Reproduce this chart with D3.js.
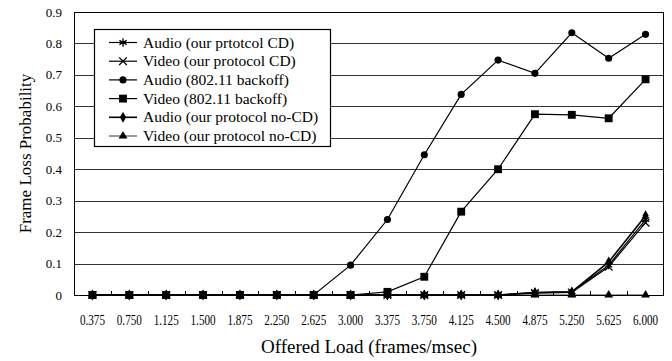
<!DOCTYPE html>
<html>
<head>
<meta charset="utf-8">
<script src="https://cdn.jsdelivr.net/npm/d3@7"></script>
<style>
  body { margin: 0; background: #fff; }
  text { font-family: "Liberation Serif", "Times New Roman", serif; fill: #000; }
</style>
</head>
<body>
<div id="chart"></div>
<script>
// data
const categories = ['0.375', '0.750', '1.125', '1.500', '1.875', '2.250', '2.625', '3.000',
  '3.375', '3.750', '4.125', '4.500', '4.875', '5.250', '5.625', '6.000']
const audioCD      = [0, 0, 0, 0, 0, 0, 0, 0, 0, 0, 0, 0, 0.008, 0.01, 0.095, 0.24]
const videoCD      = [0, 0, 0, 0, 0, 0, 0, 0, 0, 0, 0, 0, 0.006, 0.008, 0.09, 0.23]
const audioBackoff = [0, 0, 0, 0, 0, 0, 0, 0.095, 0.24, 0.446, 0.638, 0.747, 0.705, 0.834, 0.753, 0.829]
const videoBackoff = [0, 0, 0, 0, 0, 0, 0, 0, 0.01, 0.058, 0.265, 0.40, 0.575, 0.573, 0.562, 0.686]
const audioNoCD    = [0, 0, 0, 0, 0, 0, 0, 0, 0, 0, 0, 0, 0.008, 0.01, 0.105, 0.252]
const videoNoCD    = [0, 0, 0, 0, 0, 0, 0, 0, 0, 0, 0, 0, 0, 0, 0, 0]
const yTicks = [0, 0.1, 0.2, 0.3, 0.4, 0.5, 0.6, 0.7, 0.8, 0.9]
const seriesNames = ['Audio (our prtotcol CD)', 'Video (our protocol CD)', 'Audio (802.11 backoff)',
  'Video (802.11 backoff)', 'Audio (our protocol no-CD)', 'Video (our protocol no-CD)']

const width = 672
const height = 361
const margin = { top: 12, right: 8, bottom: 66, left: 74 }

const series = [
  { name: seriesNames[0], values: audioCD, symbol: d3.symbolAsterisk, size: 48, stroke: true, lw: 1.2 },
  { name: seriesNames[1], values: videoCD, symbol: d3.symbolTimes, size: 40, stroke: true, lw: 1.2 },
  { name: seriesNames[2], values: audioBackoff, symbol: d3.symbolCircle, size: 40, stroke: false, lw: 1.2 },
  { name: seriesNames[3], values: videoBackoff, symbol: d3.symbolSquare, size: 62, stroke: false, lw: 1.2 },
  { name: seriesNames[4], values: audioNoCD, symbol: d3.symbolDiamond, size: 34, stroke: false, lw: 1.6 },
  { name: seriesNames[5], values: videoNoCD, symbol: d3.symbolTriangle, size: 34, stroke: false, lw: 0.8 }
]

const svg = d3.select('#chart')
  .append('svg')
  .attr('width', width)
  .attr('height', height)

const x = d3.scalePoint()
  .domain(categories)
  .range([margin.left, width - margin.right])
  .padding(0.5)

const y = d3.scaleLinear()
  .domain([0, 0.9])
  .range([height - margin.bottom, margin.top])

const left = margin.left
const right = width - margin.right
const bottom = height - margin.bottom

// gridlines
svg.append('g')
  .selectAll('line')
  .data(yTicks.slice(1))
  .join('line')
  .attr('x1', left).attr('x2', right)
  .attr('y1', d => Math.round(y(d)) + 0.5)
  .attr('y2', d => Math.round(y(d)) + 0.5)
  .attr('stroke', '#333')
  .attr('stroke-width', 1)

// y tick labels
svg.append('g')
  .selectAll('text')
  .data(yTicks)
  .join('text')
  .attr('x', 62)
  .attr('y', d => y(d))
  .attr('dy', '0.35em')
  .attr('text-anchor', 'end')
  .style('font-size', '13px')
  .text(d => d === 0 ? '0' : d.toFixed(1))

// x tick labels
svg.append('g')
  .selectAll('text')
  .data(categories)
  .join('text')
  .attr('x', d => x(d))
  .attr('y', 325)
  .attr('text-anchor', 'middle')
  .attr('textLength', 25)
  .attr('lengthAdjust', 'spacingAndGlyphs')
  .style('font-size', '14px')
  .text(d => d)

// small inside ticks between categories
const step = x.step()
svg.append('g')
  .selectAll('line')
  .data(categories.slice(1))
  .join('line')
  .attr('x1', d => Math.round(x(d) - step / 2) + 0.5)
  .attr('x2', d => Math.round(x(d) - step / 2) + 0.5)
  .attr('y1', bottom)
  .attr('y2', bottom - 4)
  .attr('stroke', '#000')

// series lines
const line = d3.line()
  .x((d, i) => x(categories[i]))
  .y(d => y(d))

const drawOrder = [5, 4, 1, 0, 2, 3]
drawOrder.forEach(k => {
  const s = series[k]
  svg.append('path')
    .datum(s.values)
    .attr('d', line)
    .attr('fill', 'none')
    .attr('stroke', '#000')
    .attr('stroke-width', s.lw)
})

drawOrder.forEach(k => {
  const s = series[k]
  svg.append('g')
    .selectAll('path')
    .data(s.values)
    .join('path')
    .attr('transform', (d, i) => `translate(${x(categories[i])},${y(d)})`)
    .attr('d', d3.symbol(s.symbol, s.size))
    .attr('fill', s.stroke ? 'none' : '#000')
    .attr('stroke', s.stroke ? '#000' : 'none')
    .attr('stroke-width', 1.3)
})

// plot frame
svg.append('rect')
  .attr('x', left + 0.5)
  .attr('y', margin.top + 0.5)
  .attr('width', right - left - 1)
  .attr('height', bottom - margin.top)
  .attr('fill', 'none')
  .attr('stroke', '#000')
  .attr('stroke-width', 1)

// legend
const legend = svg.append('g')
legend.append('rect')
  .attr('x', 94.5).attr('y', 29.5)
  .attr('width', 236).attr('height', 117)
  .attr('fill', '#fff')
  .attr('stroke', '#000')
  .attr('stroke-width', 1.2)

series.forEach((s, i) => {
  const ly = 42.5 + i * 18.7
  legend.append('line')
    .attr('x1', 109).attr('x2', 137)
    .attr('y1', ly).attr('y2', ly)
    .attr('stroke', '#000')
    .attr('stroke-width', s.lw)
  legend.append('path')
    .attr('transform', `translate(123,${ly})`)
    .attr('d', d3.symbol(s.symbol, s.size))
    .attr('fill', s.stroke ? 'none' : '#000')
    .attr('stroke', s.stroke ? '#000' : 'none')
    .attr('stroke-width', 1.3)
  legend.append('text')
    .attr('x', 143)
    .attr('y', ly)
    .attr('dy', '0.33em')
    .style('font-size', '15.5px')
    .text(s.name)
})

// axis titles
svg.append('text')
  .attr('x', (left + right) / 2)
  .attr('y', 353)
  .attr('text-anchor', 'middle')
  .style('font-size', '19px')
  .text('Offered Load (frames/msec)')

svg.append('text')
  .attr('transform', `translate(31,${(margin.top + bottom) / 2}) rotate(-90)`)
  .attr('text-anchor', 'middle')
  .style('font-size', '17px')
  .text('Frame Loss Probability')
</script>
</body>
</html>
